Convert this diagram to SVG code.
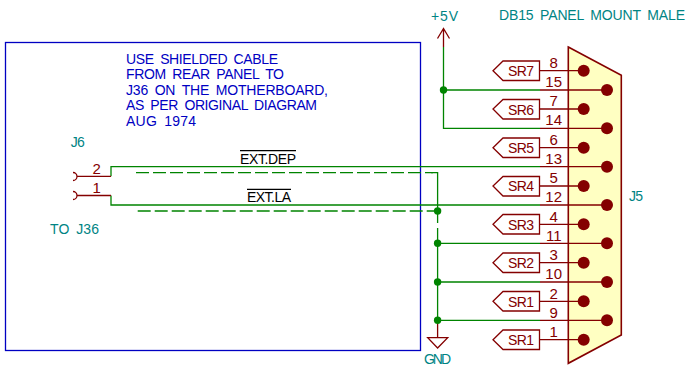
<svg xmlns="http://www.w3.org/2000/svg" width="691" height="366" viewBox="0 0 691 366">
<style>
text{font-family:"Liberation Sans",Arial,sans-serif;font-size:14px;word-spacing:3px}
.t{fill:#008484}.b{fill:#0000c2}.r{fill:#840000}.k{fill:#000}
.n{font-size:15px}
.w{fill:none;stroke:#008400;stroke-width:1.3}
.d{fill:none;stroke:#008400;stroke-width:1.3;stroke-dasharray:13 4}
.p{fill:none;stroke:#840000;stroke-width:1.3}
.j{fill:#008400}.c{fill:#840000}
.m{text-anchor:middle}
</style>
<rect width="691" height="366" fill="#fff"/>
<g id="frame"><rect x="5.5" y="42.5" width="415" height="308" fill="none" stroke="#0000c2" stroke-width="1.3"/></g>
<g id="note">
<text x="126" y="64" class="b" textLength="152">USE SHIELDED CABLE</text>
<text x="126" y="79" class="b" textLength="158">FROM REAR PANEL TO</text>
<text x="126" y="95" class="b" textLength="202">J36 ON THE MOTHERBOARD,</text>
<text x="126" y="110" class="b" textLength="191">AS PER ORIGINAL DIAGRAM</text>
<text x="126" y="126" class="b" textLength="70">AUG 1974</text>
</g>
<g id="connectors">
<path class="w" d="M443.5 47V128.3H540M443.5 90H540M111 176.3V166.7H540M111 195.5V205H540M437.6 243.3H540M437.6 282H540M437.6 320.3H540M437.6 228V320.3"/>
<path class="d" d="M136 172.7H433"/>
<path class="d" d="M137.7 211H434"/>
<path class="w" d="M431 172.7H437.6V223"/>
</g>
<g id="J5">
<path d="M568.3 47L621.3 75.3V335L568.3 363.3Z" fill="#ffffc2" stroke="#840000" stroke-width="1.6"/>
<path class="p" d="M540 70.7H584M540 90H607M540 109H584M540 128.3H607M540 147.7H584M540 166.7H607M540 186H584M540 205H607M540 224.3H584M540 243.3H607M540 262.7H584M540 282H607M540 301.3H584M540 320.3H607M540 339.7H584"/>
<g class="c">
<circle cx="583.7" cy="70.7" r="6"/><circle cx="607" cy="90" r="6"/><circle cx="583.7" cy="109" r="6"/><circle cx="607" cy="128.3" r="6"/><circle cx="583.7" cy="147.7" r="6"/><circle cx="607" cy="166.7" r="6"/><circle cx="583.7" cy="186" r="6"/><circle cx="607" cy="205" r="6"/><circle cx="583.7" cy="224.3" r="6"/><circle cx="607" cy="243.3" r="6"/><circle cx="583.7" cy="262.7" r="6"/><circle cx="607" cy="282" r="6"/><circle cx="583.7" cy="301.3" r="6"/><circle cx="607" cy="320.3" r="6"/><circle cx="583.7" cy="339.7" r="6"/>
</g>
<g>
<text class="r m n" x="553.7" y="68">8</text><text class="r m n" x="553.7" y="87">15</text><text class="r m n" x="553.7" y="106">7</text><text class="r m n" x="553.7" y="125">14</text><text class="r m n" x="553.7" y="145">6</text><text class="r m n" x="553.7" y="164">13</text><text class="r m n" x="553.7" y="183">5</text><text class="r m n" x="553.7" y="202">12</text><text class="r m n" x="553.7" y="221.500">4</text><text class="r m n" x="553.7" y="240.500">11</text><text class="r m n" x="553.7" y="260">3</text><text class="r m n" x="553.7" y="279">10</text><text class="r m n" x="553.7" y="298.500">2</text><text class="r m n" x="553.7" y="317.500">9</text><text class="r m n" x="553.7" y="337">1</text>
</g>
<text class="t" x="629" y="201" textLength="14">J5</text>
<text class="t" x="499" y="20" textLength="186">DB15 PANEL MOUNT MALE</text>
</g>
<g id="labels">
<path class="p" id="lSR7" d="M539.5 61V80.5H503L493 70.7L503 61Z"/><text class="r" x="508" y="76" textLength="26">SR7</text>
<path class="p" id="lSR6" d="M539.5 99.5V119H503L493 109L503 99.5Z"/><text class="r" x="508" y="115" textLength="26">SR6</text>
<path class="p" id="lSR5" d="M539.5 138V157.5H503L493 147.7L503 138Z"/><text class="r" x="508" y="153" textLength="26">SR5</text>
<path class="p" id="lSR4" d="M539.5 176.5V196H503L493 186L503 176.500Z"/><text class="r" x="508" y="191" textLength="26">SR4</text>
<path class="p" id="lSR3" d="M539.5 214.5V234H503L493 224.3L503 214.5Z"/><text class="r" x="508" y="230" textLength="26">SR3</text>
<path class="p" id="lSR2" d="M539.5 253V272.5H503L493 262.7L503 253Z"/><text class="r" x="508" y="268" textLength="26">SR2</text>
<path class="p" id="lSR1a" d="M539.5 291.5V311H503L493 301.3L503 291.5Z"/><text class="r" x="508" y="307" textLength="26">SR1</text>
<path class="p" id="lSR1b" d="M539.5 330V349.500H503L493 339.7L503 330Z"/><text class="r" x="508" y="345" textLength="26">SR1</text>
</g>
<g id="power5V">
<path class="p" d="M443.5 47V28.5M437.5 38.5L443.5 28.5L449.5 38.5"/>
<text class="t" x="431" y="21" textLength="27">+5V</text>
</g>
<g id="GND">
<path class="p" d="M437.6 320.3V337.7M437.6 337.7H447.7L437.6 348L427.7 337.7Z"/>
<text class="t" x="424" y="364" textLength="27">GND</text>
</g>
<g id="J6">
<path class="p" d="M111 176.300H77M111 195.5H77M73 172.5A4 4 0 0 1 73 180.5M73 191.5A4 4 0 0 1 73 199.5"/>
<text class="r m n" x="96.700" y="174">2</text><text class="r m n" x="96.700" y="193">1</text>
<text class="t" x="70.700" y="147" textLength="14">J6</text>
<text class="t" x="50" y="234" textLength="49">TO J36</text>
</g>
<g id="nets">
<path d="M240 150.7H296M247 189.3H291" stroke="#000" stroke-width="1.2" fill="none"/>
<text class="k" x="240" y="163.500" textLength="56">EXT.DEP</text>
<text class="k" x="247" y="201.700" textLength="44">EXT.LA</text>
</g>
<g id="junctions" class="j">
<circle cx="443.5" cy="90" r="3.7"/><circle cx="437.6" cy="211" r="3.7"/><circle cx="437.6" cy="243.3" r="3.7"/><circle cx="437.6" cy="282" r="3.7"/><circle cx="437.6" cy="320.3" r="3.7"/>
</g>
</svg>
